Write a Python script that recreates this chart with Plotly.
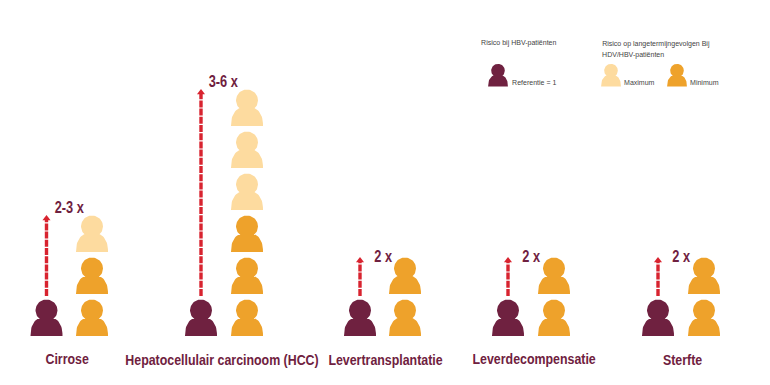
import numpy as np
import plotly.graph_objects as go

categories = ["Cirrose", "Hepatocellulair carcinoom (HCC)", "Levertransplantatie", "Leverdecompensatie", "Sterfte"]
risk_min = [2, 3, 2, 2, 2]
risk_max = [3, 6, 2, 2, 2]
risk_labels = ["2-3 x", "3-6 x", "2 x", "2 x", "2 x"]
ref_x = [46.5, 201, 360, 508, 658]
col_x = [92, 247, 405, 554, 704]
cat_x = [67.5, 221.5, 385, 534, 682]
cat_y = [358, 359, 359, 358, 359]

BASE, STEP = 336, 42
MAROON, ORANGE, LIGHT, RED = "#6f2140", "#eea22b", "#fddb9f", "#d8232f"
SANS = "Liberation Sans, Arial, sans-serif"


def person(cx, bottom, s=1.0):
    t = np.linspace(0, 2 * np.pi, 60)
    hx = cx + 11 * s * np.cos(t)
    u = np.linspace(np.pi, 0, 40)
    bx = cx + 16 * s * np.cos(u)
    return list(hx) + [None] + list(bx) + [cx - 16 * s, None]


def person_y(cx, bottom, s=1.0):
    t = np.linspace(0, 2 * np.pi, 60)
    hy = bottom - 25.5 * s + 11 * s * np.sin(t)
    u = np.linspace(np.pi, 0, 40)
    by = bottom - 20 * s * np.sin(u) ** 0.8
    return list(hy) + [None] + list(by) + [bottom, None]


def blob(items, color):
    xs, ys = [], []
    for cx, b, s in items:
        xs += person(cx, b, s)
        ys += person_y(cx, b, s)
    return go.Scatter(x=xs, y=ys, mode="lines", fill="toself", fillcolor=color,
                      line=dict(width=0, color=color), hoverinfo="skip", showlegend=False)


maroon_items = [(x, BASE, 1.0) for x in ref_x] + [(498, 86.5, 0.62)]
orange_items = [(x, BASE - STEP * i, 1.0) for x, n in zip(col_x, risk_min) for i in range(n)] + [(677, 86.5, 0.62)]
light_items = [(x, BASE - STEP * i, 1.0) for x, lo, hi in zip(col_x, risk_min, risk_max) for i in range(lo, hi)] + [(611, 86.5, 0.62)]

fig = go.Figure()
fig.add_trace(blob(light_items, LIGHT))
fig.add_trace(blob(orange_items, ORANGE))
fig.add_trace(blob(maroon_items, MAROON))

for x, hi in zip(ref_x, risk_max):
    top = BASE - STEP * hi + 5
    fig.add_trace(go.Scatter(x=[x, x], y=[296, top + 4], mode="lines",
                             line=dict(color=RED, width=3.4, dash="7px,1.2px"),
                             hoverinfo="skip", showlegend=False))
    fig.add_trace(go.Scatter(x=[x], y=[top + 3.5], mode="markers",
                             marker=dict(symbol="triangle-up", size=7, color=RED),
                             hoverinfo="skip", showlegend=False))

for x, hi, lab in zip(ref_x, risk_max, risk_labels):
    top = BASE - STEP * hi + 5
    fig.add_annotation(x=x + 22.5, y=top - 8 if hi > 2 else 256, text=f"<b>{lab}</b>", showarrow=False,
                       font=dict(family=SANS, size=16, color=MAROON))

for c, x, y in zip(categories, cat_x, cat_y):
    fig.add_annotation(x=x, y=y, text=f"<b>{c}</b>", showarrow=False,
                       font=dict(family=SANS, size=15.5, color=MAROON))

legend_texts = [
    ("Risico bij HBV-patiënten", 479, 42),
    ("Risico op langetermijngevolgen Bij", 600, 43),
    ("HDV/HBV-patiënten", 600, 54),
    ("Referentie = 1", 510, 82),
    ("Maximum", 622, 82),
    ("Minimum", 688, 82),
]
for t, x, y in legend_texts:
    fig.add_annotation(x=x, y=y, text=t, showarrow=False, xanchor="left",
                       font=dict(family=SANS, size=8, color="#444444"))

fig.update_layout(
    width=762, height=377, margin=dict(l=0, r=0, t=0, b=0),
    paper_bgcolor="white", plot_bgcolor="white", showlegend=False,
    xaxis=dict(range=[8, 770], visible=False, fixedrange=True),
    yaxis=dict(range=[385, 8], visible=False, fixedrange=True),
)

# Only condensed look-alike: the narrow bold face of the reference is not installed.
narrow_js = """
document.querySelectorAll('.annotation-text').forEach(function (el) {
  var bold = el.querySelector('tspan[style*="bold"]');
  el.style.transformBox = 'fill-box';
  el.style.transformOrigin = el.textContent.length > 3 && !bold ? '0 50%' : '50% 50%';
  el.style.transform = bold ? 'scaleX(0.8)' : 'scaleX(0.88)';
});
"""
fig.write_html("out.html", post_script=narrow_js)
